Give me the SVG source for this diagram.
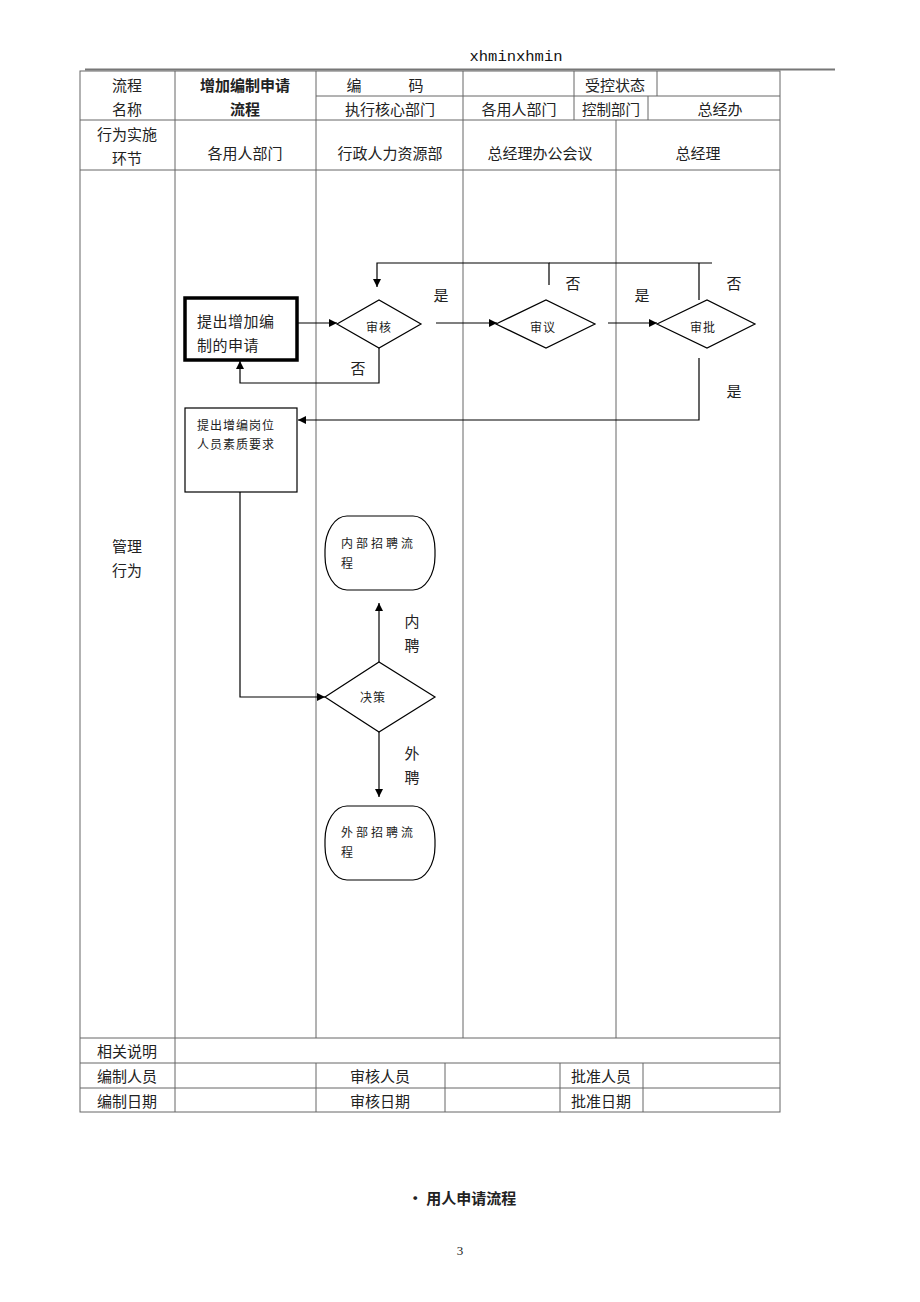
<svg xmlns="http://www.w3.org/2000/svg" width="920" height="1302" viewBox="0 0 920 1302">
<style>
.t{font-family:"Noto Sans CJK SC","Noto Sans",sans-serif;font-size:15px;fill:#222;text-anchor:middle;dominant-baseline:central}
.s{font-size:12px;letter-spacing:1px}
.b{font-weight:bold}
.l{text-anchor:start}
.g{stroke:#666;stroke-width:1;fill:none}
.k{stroke:#000;stroke-width:1.2;fill:none}
.n{fill:#fff;stroke:#000;stroke-width:1.2}
</style>
<defs>
<marker id="a" viewBox="0 0 10 10" refX="10" refY="5" markerWidth="8" markerHeight="8" markerUnits="userSpaceOnUse" orient="auto"><path d="M0,0 L10,5 L0,10 z" fill="#000"/></marker>
</defs>
<rect width="920" height="1302" fill="#fff"/>
<text x="516" y="57" style="font-family:'Liberation Mono',monospace;font-size:15.5px;fill:#111;text-anchor:middle;dominant-baseline:central">xhminxhmin</text>
<line x1="85" y1="69.5" x2="835" y2="69.5" stroke="#777" stroke-width="2"/>
<g id="table" class="g">
<rect x="80" y="71" width="700" height="1041"/>
<path d="M80,120H780M80,170H780M316,96H780M80,1038H780M80,1063H780M80,1088H780"/>
<path d="M175,71V1112M316,71V1038M463,71V120M574,71V120M657,71V96M648,96V120"/>
<path d="M463,120V1038M616,120V1038"/>
<path d="M316,1063V1112M445,1063V1112M560,1063V1112M643,1063V1112"/>
</g>
<g id="table-text">
<text class="t" x="127" y="84">流程</text>
<text class="t" x="127" y="108">名称</text>
<text class="t b" x="245" y="84">增加编制申请</text>
<text class="t b" x="245" y="108">流程</text>
<text class="t" x="354" y="84">编</text>
<text class="t" x="416" y="84">码</text>
<text class="t" x="615" y="84">受控状态</text>
<text class="t" x="390" y="108">执行核心部门</text>
<text class="t" x="519" y="108">各用人部门</text>
<text class="t" x="611" y="108" style="font-size:14.5px">控制部门</text>
<text class="t" x="720" y="108">总经办</text>
<text class="t" x="127" y="133">行为实施</text>
<text class="t" x="127" y="157">环节</text>
<text class="t" x="245" y="152">各用人部门</text>
<text class="t" x="390" y="152">行政人力资源部</text>
<text class="t" x="540" y="152">总经理办公会议</text>
<text class="t" x="698" y="152">总经理</text>
<text class="t" x="127" y="545">管理</text>
<text class="t" x="127" y="569">行为</text>
<text class="t" x="127" y="1050">相关说明</text>
<text class="t" x="127" y="1075">编制人员</text>
<text class="t" x="380" y="1075">审核人员</text>
<text class="t" x="601" y="1075">批准人员</text>
<text class="t" x="127" y="1100">编制日期</text>
<text class="t" x="380" y="1100">审核日期</text>
<text class="t" x="601" y="1100">批准日期</text>
</g>
<g id="connectors" class="k">
<path d="M297,323H337" marker-end="url(#a)"/>
<path d="M436,323H497" marker-end="url(#a)"/>
<path d="M608,323H657" marker-end="url(#a)"/>
<path d="M379,348V383H240V361" marker-end="url(#a)"/>
<path d="M549,285V263H377V287" marker-end="url(#a)"/>
<path d="M699,300V263H549M699,263H712"/>
<path d="M699,358V420H298" marker-end="url(#a)"/>
<path d="M240,492V697H325" marker-end="url(#a)"/>
<path d="M379,662V603" marker-end="url(#a)"/>
<path d="M379,732V797" marker-end="url(#a)"/>
</g>
<g id="labels">
<text class="t" x="441" y="294">是</text>
<text class="t" x="358" y="367">否</text>
<text class="t" x="573" y="282">否</text>
<text class="t" x="642" y="294">是</text>
<text class="t" x="734" y="282">否</text>
<text class="t" x="734" y="390">是</text>
<text class="t" x="412" y="620">内</text>
<text class="t" x="412" y="644">聘</text>
<text class="t" x="412" y="752">外</text>
<text class="t" x="412" y="776">聘</text>
</g>
<g id="n-apply">
<rect x="185" y="298" width="112" height="62" fill="#fff" stroke="#000" stroke-width="3.5"/>
<text class="t l" x="197" y="320" style="letter-spacing:0.5px">提出增加编</text>
<text class="t l" x="197" y="344" style="letter-spacing:0.5px">制的申请</text>
</g>
<g id="n-review">
<polygon class="n" points="337,324 379,300 421,324 379,348"/>
<text class="t s" x="379" y="326">审核</text>
</g>
<g id="n-discuss">
<polygon class="n" points="496,324 546,300 595,324 546,348"/>
<text class="t s" x="543" y="326">审议</text>
</g>
<g id="n-approve">
<polygon class="n" points="657,324 707,300 755,324 707,348"/>
<text class="t s" x="703" y="326">审批</text>
</g>
<g id="n-require">
<rect class="n" x="185" y="408" width="112" height="84"/>
<text class="t l s" x="197" y="424">提出增编岗位</text>
<text class="t l s" x="197" y="443">人员素质要求</text>
</g>
<g id="n-decide">
<polygon class="n" points="325,697 379,662 435,697 379,732"/>
<text class="t s" x="373" y="696">决策</text>
</g>
<g id="n-internal">
<rect class="n" x="325" y="516" width="110" height="74" rx="22" ry="34"/>
<text class="t l s" x="341" y="542" style="letter-spacing:3px">内部招聘流</text>
<text class="t l s" x="341" y="562">程</text>
</g>
<g id="n-external">
<rect class="n" x="325" y="806" width="110" height="74" rx="22" ry="34"/>
<text class="t l s" x="341" y="831" style="letter-spacing:3px">外部招聘流</text>
<text class="t l s" x="341" y="851">程</text>
</g>
<text class="t b" x="462" y="1197">• 用人申请流程</text>
<text x="460" y="1250" style="font-family:'Liberation Serif',serif;font-size:13px;fill:#222;text-anchor:middle;dominant-baseline:central">3</text>
</svg>
